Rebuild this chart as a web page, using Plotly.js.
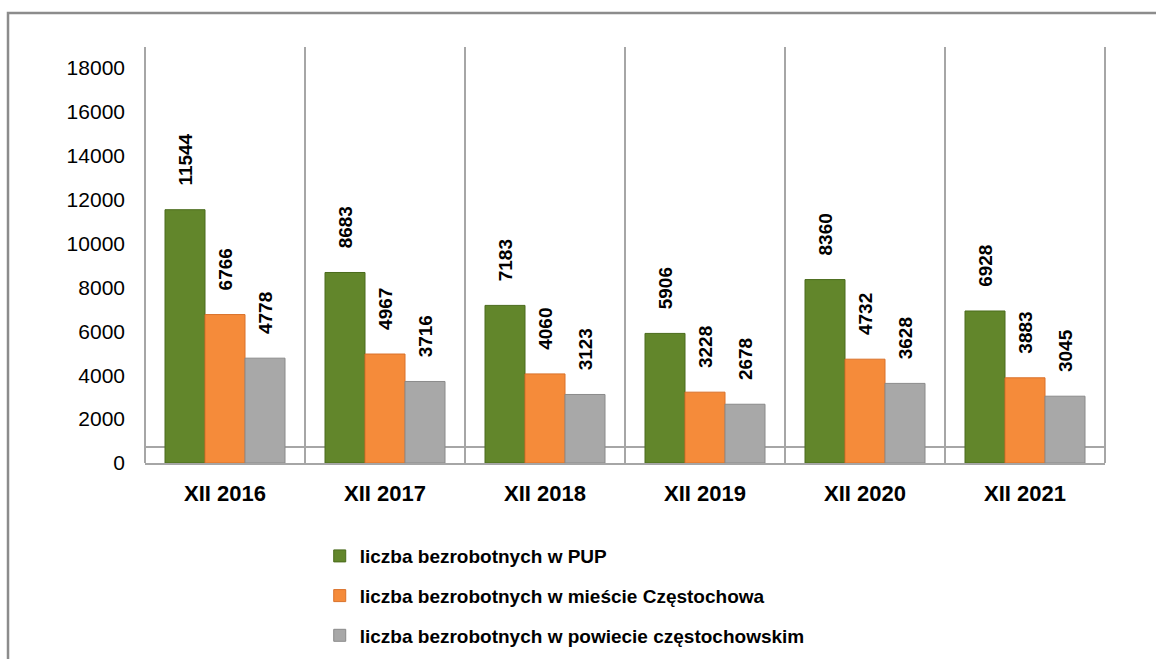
<!DOCTYPE html>
<html>
<head>
<meta charset="utf-8">
<script src="https://cdn.plot.ly/plotly-3.0.1.min.js"></script>
<style>
  html, body { margin: 0; padding: 0; background: #fff; }
  #chart { width: 1156px; height: 659px; }
</style>
</head>
<body>
<div id="chart"></div>
<script>
const categories = ["XII 2016", "XII 2017", "XII 2018", "XII 2019", "XII 2020", "XII 2021"];
const seriesNames = [
  "liczba bezrobotnych w PUP",
  "liczba bezrobotnych w mieście Częstochowa",
  "liczba bezrobotnych w powiecie częstochowskim"
];
const pupValues = [11544, 8683, 7183, 5906, 8360, 6928];
const cityValues = [6766, 4967, 4060, 3228, 4732, 3883];
const countyValues = [4778, 3716, 3123, 2678, 3628, 3045];
const yTicks = [0, 2000, 4000, 6000, 8000, 10000, 12000, 14000, 16000, 18000];

const colors = ["#62862b", "#f58b3a", "#a8a8a8"];
const lineColors = ["#4a6b1c", "#d9712a", "#8a8a8a"];
const seriesValues = [pupValues, cityValues, countyValues];

const pad = "\u00a0\u00a0\u00a0\u00a0";
const traces = seriesValues.map((vals, i) => ({
  type: "bar",
  name: seriesNames[i],
  legendgroup: "g" + i,
  x: categories,
  y: vals,
  text: vals.map(v => pad + v),
  textposition: "outside",
  textangle: -90,
  constraintext: "none",
  cliponaxis: false,
  textfont: { family: "Liberation Sans, Arial, sans-serif", size: 19, color: "#000", weight: "bold" },
  marker: { color: colors[i], line: { color: lineColors[i], width: 1 } },
  hoverinfo: "x+y+name"
}));

const layout = {
  width: 1156,
  height: 659,
  paper_bgcolor: "#fff",
  plot_bgcolor: "#fff",
  margin: { l: 145, r: 51, t: 47, b: 196, autoexpand: false },
  barmode: "group",
  bargap: 0.25,
  bargroupgap: 0,
  showlegend: true,
  font: { family: "Liberation Sans, Arial, sans-serif", color: "#000" },
  xaxis: {
    type: "category",
    range: [-0.5, 5.5],
    tickson: "boundaries",
    showgrid: true,
    gridcolor: "#a6a6a6",
    gridwidth: 2,
    showline: true,
    linecolor: "#a6a6a6",
    linewidth: 2,
    mirror: false,
    ticks: "",
    ticklabelstandoff: 10,
    tickfont: { size: 22, weight: "bold", color: "#000" },
    fixedrange: true
  },
  yaxis: {
    range: [0, 18960],
    tickvals: yTicks,
    ticktext: yTicks.map(String),
    showgrid: false,
    zeroline: false,
    showline: false,
    ticks: "",
    ticklabelstandoff: 19,
    tickfont: { size: 21, color: "#000" },
    fixedrange: true
  },
  legend: {
    orientation: "v",
    x: 0.182,
    xanchor: "left",
    y: -0.178,
    yanchor: "top",
    traceorder: "grouped",
    tracegroupgap: 12,
    font: { size: 19, weight: "bold", color: "#000" },
    bgcolor: "rgba(0,0,0,0)"
  },
  shapes: [
    { type: "line", xref: "paper", yref: "paper", x0: 0, x1: 1, y0: 0.0385, y1: 0.0385,
      line: { color: "#a6a6a6", width: 2 }, layer: "below" },
    { type: "line", xref: "paper", yref: "paper", x0: 0, x1: 0, y0: 0, y1: 1,
      line: { color: "#a6a6a6", width: 2 }, layer: "below" },
    { type: "line", xref: "paper", yref: "paper", x0: 1, x1: 1, y0: 0, y1: 1,
      line: { color: "#a6a6a6", width: 2 }, layer: "below" },
    { type: "rect", xref: "paper", yref: "paper", x0: -0.1427, x1: 1.2, y0: -0.7, y1: 1.0817,
      line: { color: "#8c8c8c", width: 2.5 }, fillcolor: "rgba(0,0,0,0)", layer: "below" }
  ]
};

Plotly.newPlot("chart", traces, layout, { displayModeBar: false, staticPlot: true });
</script>
</body>
</html>
